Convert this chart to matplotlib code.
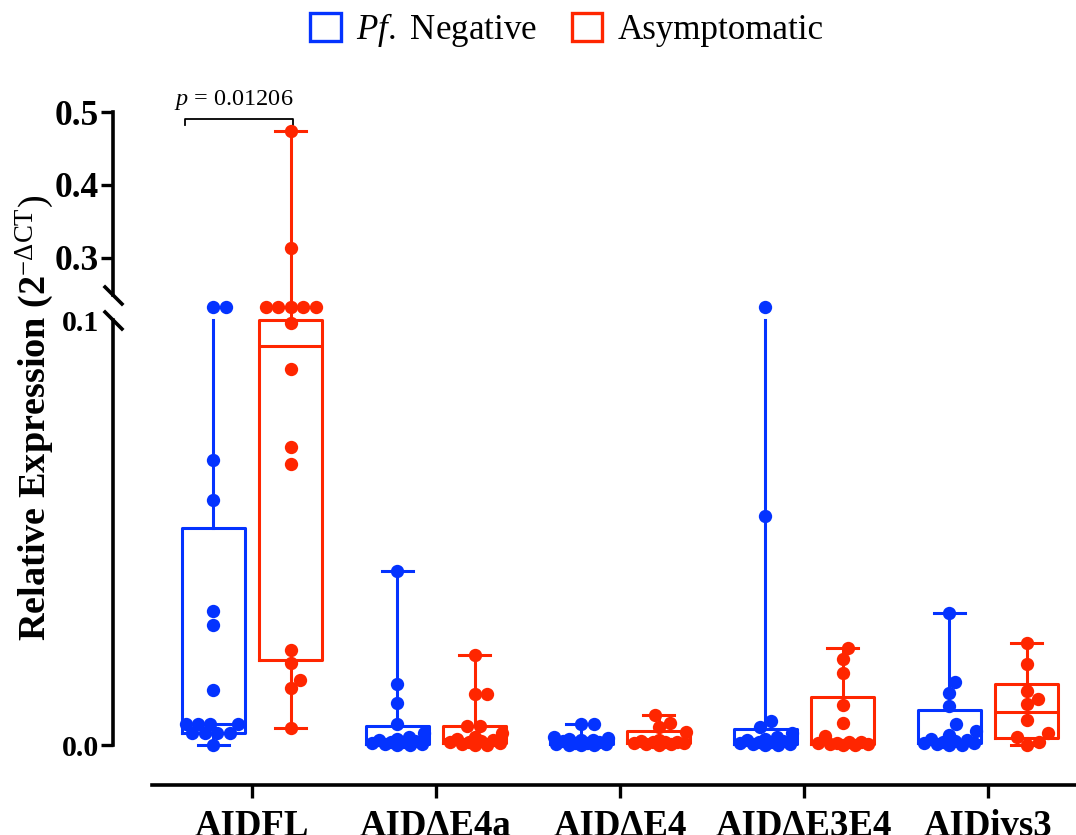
import numpy as np
import matplotlib
matplotlib.use("Agg")
import matplotlib.pyplot as plt
from matplotlib.patches import Patch

plt.rcParams["font.family"] = ["Liberation Serif", "DejaVu Serif"]
plt.rcParams["mathtext.fontset"] = "custom"
plt.rcParams["mathtext.rm"] = "Liberation Serif"
plt.rcParams["mathtext.it"] = "Liberation Serif:italic"
plt.rcParams["mathtext.bf"] = "Liberation Serif:bold"

genes = ["AIDFL", "AIDΔE4a", "AIDΔE4", "AIDΔE3E4", "AIDivs3"]

# relative expression (2^-dCT)
neg_fl = [0.103, 0.103, 0.0671, 0.0576, 0.0315, 0.0282, 0.0129,
          0.0049, 0.0049, 0.0049, 0.0049, 0.0028, 0.0028, 0.0028, 0.0028, 0.0]
neg_e4a = [0.041, 0.0144, 0.0099, 0.0049, 0.0028, 0.0018, 0.0015, 0.0012,
           0.0010, 0.0008, 0.0006, 0.0004, 0.0003, 0.0002, 0.0001, 0.0]
neg_e4 = [0.0049, 0.0049, 0.0019, 0.0017, 0.0015, 0.0013, 0.0011, 0.0009,
          0.0007, 0.0005, 0.0004, 0.0003, 0.0002, 0.0001, 0.0, 0.0]
neg_e3e4 = [0.103, 0.0539, 0.0056, 0.0042, 0.0028, 0.0018, 0.0015, 0.0012,
            0.0010, 0.0008, 0.0006, 0.0004, 0.0003, 0.0002, 0.0001, 0.0]
neg_ivs3 = [0.031, 0.0148, 0.0122, 0.0092, 0.0049, 0.0033, 0.0024, 0.0014,
            0.0011, 0.0009, 0.0007, 0.0005, 0.0004, 0.0002, 0.0001, 0.0]

asy_fl = [0.474, 0.314, 0.103, 0.103, 0.103, 0.103, 0.103, 0.0993, 0.0885,
          0.0701, 0.0661, 0.0224, 0.0193, 0.0153, 0.0134, 0.004]
asy_e4a = [0.0212, 0.012, 0.012, 0.0045, 0.0045, 0.0028, 0.0018, 0.0015,
           0.0012, 0.0010, 0.0008, 0.0006, 0.0004, 0.0002, 0.0001, 0.0]
asy_e4 = [0.007, 0.0052, 0.0042, 0.003, 0.0012, 0.0010, 0.0008, 0.0007,
          0.0006, 0.0005, 0.0004, 0.0003, 0.0002, 0.0001]
asy_e3e4 = [0.0228, 0.0202, 0.0169, 0.0094, 0.0052, 0.0021, 0.0008, 0.0006,
            0.0005, 0.0004, 0.0003, 0.0002, 0.0001, 0.0]
asy_ivs3 = [0.024, 0.019, 0.0127, 0.0108, 0.0096, 0.0059, 0.0028, 0.0019,
            0.0007, 0.0]

negative = [neg_fl, neg_e4a, neg_e4, neg_e3e4, neg_ivs3]
asymptomatic = [asy_fl, asy_e4a, asy_e4, asy_e3e4, asy_ivs3]

yticks = [0.0, 0.1, 0.3, 0.4, 0.5]
ytick_labels = ["0.0", "0.1", "0.3", "0.4", "0.5"]
p_text = r"$p$ = 0.01206"

BLUE = "#0433FF"
RED = "#FF2600"

# broken y axis: lower part 0-0.1, upper part from ~0.25 to 0.5
low_top = 0.1
up_bottom = 0.249
knot_v = np.array([-1.0, 0.0, 0.104, up_bottom, 0.5, 2.0])
knot_p = np.array([-4250.0, 0.0, 442.0, 450.0, 633.0, 1728.0])


def fwd(y):
    return np.interp(y, knot_v, knot_p)


def inv(p):
    return np.interp(p, knot_p, knot_v)


fig = plt.figure(figsize=(10.76, 8.35), dpi=100)
ax = fig.add_axes([0.105, 0.0599, 0.895, 0.8147])
ax.set_yscale("function", functions=(fwd, inv))
ax.set_xlim(-0.755, 4.478)
ax.set_ylim(-0.0094, 0.51)

x = np.arange(len(genes))
off = 0.21
width = 0.34


def clip(v):
    return low_top if low_top < v < up_bottom else v


def stats(values):
    v = np.asarray(values)
    q1, med, q3 = np.percentile(v, [25, 50, 75], method="weibull")
    return dict(med=clip(med), q1=clip(q1), q3=clip(q3),
                whislo=v.min(), whishi=clip(v.max()), fliers=[])


def swarm(values, x0, d=12.5, limit=27.0):
    vals = np.asarray(values)
    out = np.zeros(len(vals))
    placed = []
    px0 = ax.transData.transform((x0, 0.0))[0]
    for i in np.argsort(vals, kind="stable"):
        py = ax.transData.transform((x0, vals[i]))[1]
        near = [(qx, np.sqrt(d * d - (qy - py) ** 2)) for qx, qy in placed
                if abs(qy - py) < d]
        cands = [0.0]
        for qx, w in near:
            cands += [qx - w, qx + w]
        cands.sort(key=lambda c: (round(abs(c), 6), -c))
        best = None
        for c in cands:
            if all(abs(c - qx) >= w - 1e-6 for qx, w in near):
                best = c
                break
        if best is None or abs(best) > limit:
            grid = np.linspace(-limit, limit, 19)
            score = [min(np.hypot(g - qx, qy - py) for qx, qy in placed)
                     for g in grid]
            best = grid[int(np.argmax(score))]
        placed.append((best, py))
        out[i] = ax.transData.inverted().transform((px0 + best, py))[0]
    return out


for data, xs, color in [(negative, x - off, BLUE), (asymptomatic, x + off, RED)]:
    line = dict(color=color, linewidth=2.2)
    bp = ax.bxp([stats(d) for d in data], positions=xs, widths=width,
                showfliers=False, boxprops=line, whiskerprops=line,
                capprops=line, medianprops=line, zorder=2)
    for i, d in enumerate(data):
        if max(d) > low_top and max(d) < up_bottom:
            bp["caps"][2 * i + 1].set_visible(False)
        ax.scatter(swarm(d, xs[i]), d, s=92, color=color, linewidths=0,
                   zorder=3, clip_on=False)

# axes styling
for side in ["top", "right", "left"]:
    ax.spines[side].set_visible(False)
ax.spines["bottom"].set_linewidth(2.6)
ax.spines["bottom"].set_bounds(-0.543, 4.478)
ytr = ax.get_yaxis_transform()
ax.plot([0, 0], [0.0, low_top], transform=ytr, color="black", lw=2.6,
        clip_on=False, solid_capstyle="projecting")
ax.plot([0, 0], [up_bottom, 0.5], transform=ytr, color="black", lw=2.6,
        clip_on=False, solid_capstyle="projecting")
ax.plot([0, 0], [low_top, up_bottom], transform=ytr, ls="none",
        marker=[(-1, 1), (1, -1)], ms=14, mew=2.6, color="black", clip_on=False)

ax.set_yticks(yticks)
ax.set_yticklabels(ytick_labels, fontweight="bold", fontsize=25.5)
for lbl in ax.get_yticklabels()[:2]:
    lbl.set_fontsize(21.5)
ax.yaxis.get_major_ticks()[1].tick1line.set_visible(False)
ax.minorticks_off()
ax.tick_params(axis="y", length=9, width=2.4, pad=1)
ax.set_xticks(x)
ax.set_xticklabels(genes, fontweight="bold", fontsize=26.5)
ax.tick_params(axis="x", length=9, width=2.4, pad=8)

ax.set_ylabel("Relative Expression (2" + r"$^{\mathrm{-\Delta CT}}\mathrm{)}$",
              fontsize=27.5, fontweight="bold")
ax.yaxis.set_label_coords(-0.059, 0.54)

# significance bracket
xl = x[0] - off - width * 0.45
xr = x[0] + off + 0.015
ax.plot([xl, xl, xr, xr], [0.482, 0.490, 0.490, 0.482], color="black",
        lw=1.3, clip_on=False)
ax.text((xl + xr) / 2 - 0.03, 0.5096, p_text, ha="center", va="baseline",
        fontsize=17.5, clip_on=False)

handles = [Patch(facecolor="white", edgecolor=BLUE, linewidth=2.4),
           Patch(facecolor="white", edgecolor=RED, linewidth=2.4)]
fig.legend(handles, [r"$\mathit{Pf.}$ Negative", "Asymptomatic"], loc="center",
           bbox_to_anchor=(0.527, 0.964), ncol=2, frameon=False, fontsize=25.2,
           handlelength=0.87, handleheight=0.87, handletextpad=0.43,
           columnspacing=1.0)

fig.savefig("out.png", dpi=100)
